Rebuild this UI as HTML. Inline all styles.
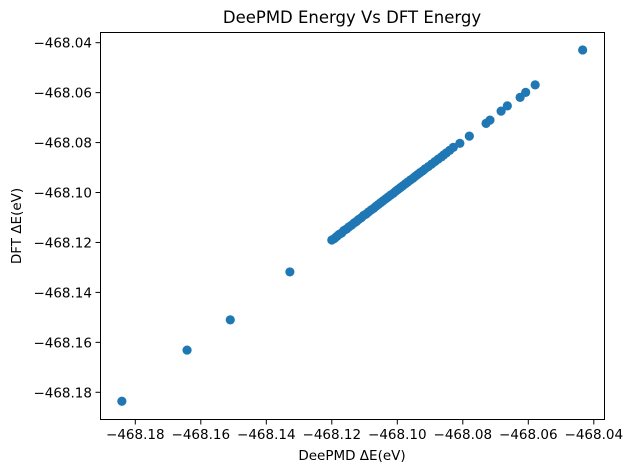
<!DOCTYPE html>
<html><head><meta charset="utf-8">
<style>
html,body{margin:0;padding:0;background:#fff;}
svg{display:block;font-family:"DejaVu Sans","Liberation Sans",sans-serif;}
</style></head>
<body>
<svg id="chart" width="632" height="472" xmlns="http://www.w3.org/2000/svg">
  <rect width="632" height="472" fill="#fff"/>
  <text x="352" y="23" text-anchor="middle" font-size="16.5" fill="#000">DeePMD Energy Vs DFT Energy</text>
  <g id="ticks"></g>
  <g id="points"></g>
  <rect x="100.5" y="32.5" width="504" height="387" fill="none" stroke="#000" stroke-width="1"/>
  <text x="352" y="460" text-anchor="middle" font-size="13.5" fill="#000">DeePMD ΔE(eV)</text>
  <text x="21" y="226" text-anchor="middle" font-size="13.5" fill="#000" transform="rotate(-90 21 226)">DFT ΔE(eV)</text>
</svg>
<script>
const xTicks = [-468.18,-468.16,-468.14,-468.12,-468.10,-468.08,-468.06,-468.04];
const yTicks = [-468.18,-468.16,-468.14,-468.12,-468.10,-468.08,-468.06,-468.04];
const deepmdE = [
-468.1841,-468.1642,-468.1510,-468.1328,
-468.1200,-468.1192,-468.1185,-468.1178,-468.1170,-468.1163,-468.1155,-468.1148,-468.1140,-468.1132,
-468.1125,-468.1118,-468.1110,-468.1103,-468.1095,-468.1088,-468.1080,-468.1072,-468.1065,-468.1058,
-468.1050,-468.1043,-468.1035,-468.1028,-468.1020,-468.1012,-468.1005,-468.0998,-468.0990,-468.0983,
-468.0975,-468.0968,-468.0960,-468.0952,-468.0945,-468.0938,-468.0930,-468.0922,-468.0915,-468.0905,
-468.0895,-468.0885,-468.0875,-468.0865,-468.0858,-468.0850,-468.0840,
-468.0829,-468.0809,-468.0780,-468.0729,-468.0717,-468.0683,-468.0664,-468.0625,-468.0608,-468.0579,-468.0434
];
const dftE = [
-468.1836,-468.1631,-468.1510,-468.1318,
-468.1190,-468.1184,-468.1176,-468.1168,-468.1162,-468.1152,-468.1146,-468.1138,-468.1131,-468.1122,
-468.1116,-468.1108,-468.1101,-468.1092,-468.1086,-468.1078,-468.1070,-468.1063,-468.1055,-468.1048,
-468.1040,-468.1033,-468.1025,-468.1018,-468.1010,-468.1003,-468.0995,-468.0988,-468.0980,-468.0973,
-468.0965,-468.0958,-468.0950,-468.0943,-468.0935,-468.0928,-468.0920,-468.0913,-468.0905,-468.0896,
-468.0886,-468.0876,-468.0866,-468.0857,-468.0849,-468.0841,-468.0831,
-468.0819,-468.0803,-468.0774,-468.0723,-468.0710,-468.0674,-468.0653,-468.0619,-468.0599,-468.0569,-468.0429
];
const NS='http://www.w3.org/2000/svg';
function xScale(v){return 135.3+(v+468.18)*3275;}
function yScale(v){return 42.7+(-468.04-v)*2497;}
const tg=document.getElementById('ticks');
xTicks.forEach(t=>{
  const x=xScale(t);
  const l=document.createElementNS(NS,'line');
  l.setAttribute('x1',x);l.setAttribute('x2',x);l.setAttribute('y1',419.5);l.setAttribute('y2',424.5);
  l.setAttribute('stroke','#000');
  
  
  tg.appendChild(l);
  const tx=document.createElementNS(NS,'text');
  tx.setAttribute('x',x);tx.setAttribute('y',439);tx.setAttribute('text-anchor','middle');tx.setAttribute('font-size','13.5');
  tx.textContent='\u2212'+Math.abs(t).toFixed(2);
  
  
  tg.appendChild(tx);
});
yTicks.forEach(t=>{
  const y=yScale(t);
  const l=document.createElementNS(NS,'line');
  l.setAttribute('x1',95.5);l.setAttribute('x2',100.5);l.setAttribute('y1',y);l.setAttribute('y2',y);
  l.setAttribute('stroke','#000');
  
  
  tg.appendChild(l);
  const tx=document.createElementNS(NS,'text');
  tx.setAttribute('x',92);tx.setAttribute('y',y+5);tx.setAttribute('text-anchor','end');tx.setAttribute('font-size','13.5');
  tx.textContent='\u2212'+Math.abs(t).toFixed(2);
  
  
  tg.appendChild(tx);
});
const pg=document.getElementById('points');
deepmdE.forEach((v,i)=>{
  const c=document.createElementNS(NS,'circle');
  c.setAttribute('cx',xScale(v));c.setAttribute('cy',yScale(dftE[i]));c.setAttribute('r',4.6);
  c.setAttribute('fill','#1f77b4');
  
  
  pg.appendChild(c);
});
</script>
</body></html>
